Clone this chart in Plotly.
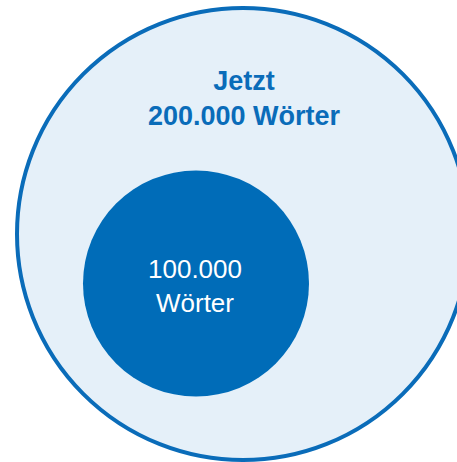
import plotly.graph_objects as go

# Data
labels = ["Jetzt<br>200.000 Wörter", "100.000<br>Wörter"]
values = [200000, 100000]

# Layout / style
W, H = 457, 462
px_per_unit = 0.00113
centers = [(243, 234), (196, 283.5)]
fills = ["#e5f0f9", "#006cb8"]
lines = ["#0a6cb9", "#006cb8"]
line_widths = [4, 0]
text_pos = [(244, 98), (195, 286)]
text_colors = ["#0a6cb9", "#ffffff"]
text_bold = [True, False]
text_sizes = [27, 26]

fig = go.Figure()
fig.add_trace(go.Scatter(x=[0, W], y=[0, H], mode="markers",
                         marker=dict(opacity=0), hoverinfo="skip", showlegend=False))

for v, (cx, cy), f, lc, lw in zip(values, centers, fills, lines, line_widths):
    r = v * px_per_unit
    fig.add_shape(type="circle", xref="x", yref="y",
                  x0=cx - r, x1=cx + r, y0=cy - r, y1=cy + r,
                  fillcolor=f, line=dict(color=lc, width=lw), layer="below")

for lab, (tx, ty), c, b, s in zip(labels, text_pos, text_colors, text_bold, text_sizes):
    fig.add_annotation(x=tx, y=ty, xref="x", yref="y", text=lab, showarrow=False,
                       font=dict(family="Liberation Sans, Arial, sans-serif", size=s,
                                 color=c, weight="bold" if b else "normal"),
                       align="center")

fig.update_layout(
    width=W, height=H, margin=dict(l=0, r=0, t=0, b=0),
    paper_bgcolor="white", plot_bgcolor="white",
    xaxis=dict(range=[0, W], visible=False, fixedrange=True),
    yaxis=dict(range=[H, 0], visible=False, fixedrange=True),
    showlegend=False,
)
fig.write_html("out.html", config={"displayModeBar": False})
